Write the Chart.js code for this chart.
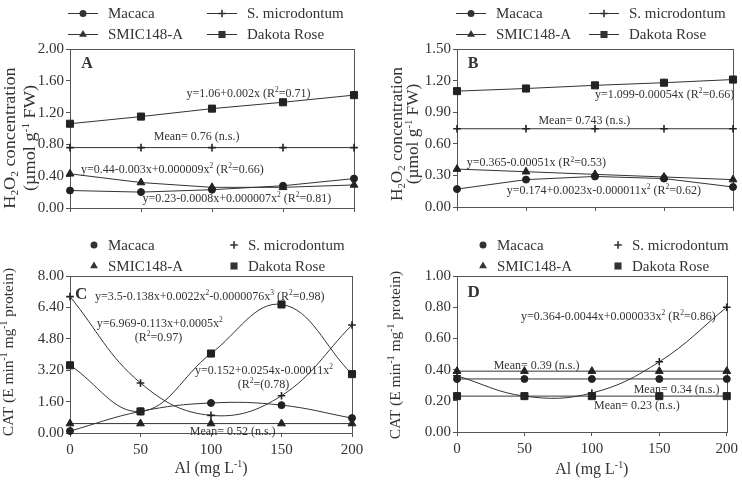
<!DOCTYPE html>
<html>
<head>
<meta charset="utf-8">
<script src="https://cdn.jsdelivr.net/npm/chart.js@4.4.1/dist/chart.umd.min.js"></script>
<style>
  html, body { margin: 0; padding: 0; background: #fff; }
  #wrap { position: relative; width: 742px; height: 481px; overflow: hidden; }
  canvas { position: absolute; }
</style>
</head>
<body>
<div id="wrap">
  <canvas id="chartA" width="370" height="240" style="left:0;top:0"></canvas>
  <canvas id="chartB" width="372" height="240" style="left:370px;top:0"></canvas>
  <canvas id="chartC" width="370" height="241" style="left:0;top:240px"></canvas>
  <canvas id="chartD" width="372" height="241" style="left:370px;top:240px"></canvas>
</div>
<script>
// Al doses (mg L-1) and the four potato clones
var doses = [0, 50, 100, 150, 200];
var clones = ['Macaca', 'S. microdontum', 'SMIC148-A', 'Dakota Rose'];
var xTicks = [0, 50, 100, 150, 200];

// A - H2O2, roots
var macacaA = [0.22, 0.20, 0.23, 0.28, 0.37];
var microA = [0.76, 0.76, 0.76, 0.76, 0.76];
var smicA = [0.43, 0.32, 0.26, 0.26, 0.29];
var dakotaA = [1.06, 1.15, 1.25, 1.33, 1.42];
var yTicksA = [0, 0.4, 0.8, 1.2, 1.6, 2.0];

// B - H2O2, shoots
var macacaB = [0.17, 0.26, 0.29, 0.27, 0.19];
var microB = [0.743, 0.743, 0.743, 0.743, 0.743];
var smicB = [0.36, 0.335, 0.31, 0.285, 0.26];
var dakotaB = [1.10, 1.125, 1.155, 1.18, 1.21];
var yTicksB = [0, 0.3, 0.6, 0.9, 1.2, 1.5];

// C - CAT, roots
var macacaC = [0.1, 1.1, 1.53, 1.42, 0.76];
var microC = [6.95, 2.55, 0.9, 1.9, 5.5];
var smicC = [0.48, 0.48, 0.48, 0.48, 0.48];
var dakotaC = [3.45, 1.1, 4.05, 6.55, 3.0];
var yTicksC = [0, 1.6, 3.2, 4.8, 6.4, 8.0];

// D - CAT, shoots
var macacaD = [0.34, 0.34, 0.34, 0.34, 0.34];
var microD = [0.36, 0.23, 0.25, 0.45, 0.80];
var smicD = [0.39, 0.39, 0.39, 0.39, 0.39];
var dakotaD = [0.23, 0.23, 0.23, 0.23, 0.23];
var yTicksD = [0, 0.2, 0.4, 0.6, 0.8, 1.0];

var INK = '#333';
var FRAME = '#555';
var markers = [
  { style: 'circle', r: 3.5, bw: 1 },
  { style: 'cross', r: 3.8, bw: 1.6 },
  { style: 'triangle', r: 4.5, bw: 1 },
  { style: 'rect', r: 5, bw: 1 }
];

function fontStr(size, bold) {
  return (bold ? 'bold ' : '') + size + 'px "Liberation Serif", "Times New Roman", serif';
}

// text with _{sub} and ^{sup}
function parseRich(str) {
  var parts = [], re = /([_^])\{([^}]*)\}/g, last = 0, m;
  while ((m = re.exec(str))) {
    if (m.index > last) parts.push({ t: str.slice(last, m.index), k: 'n' });
    parts.push({ t: m[2], k: m[1] == '^' ? 'sup' : 'sub' });
    last = re.lastIndex;
  }
  if (last < str.length) parts.push({ t: str.slice(last), k: 'n' });
  return parts;
}
function richWidth(ctx, str, size, bold) {
  var w = 0;
  parseRich(str).forEach(function (p) {
    ctx.font = fontStr(p.k == 'n' ? size : size * 0.62, bold);
    w += ctx.measureText(p.t).width;
  });
  return w;
}
function drawRich(ctx, str, x, y, size, align, bold) {
  var cx = align == 'center' ? x - richWidth(ctx, str, size, bold) / 2 : x;
  var base = y + size * 0.33;
  ctx.textAlign = 'left';
  ctx.textBaseline = 'alphabetic';
  parseRich(str).forEach(function (p) {
    ctx.font = fontStr(p.k == 'n' ? size : size * 0.62, bold);
    var dy = p.k == 'sup' ? -size * 0.4 : (p.k == 'sub' ? size * 0.2 : 0);
    ctx.fillText(p.t, cx, base + dy);
    cx += ctx.measureText(p.t).width;
  });
}

function drawMarker(ctx, style, r, x, y) {
  ctx.beginPath();
  if (style == 'circle') {
    ctx.arc(x, y, r, 0, Math.PI * 2);
    ctx.fill();
  } else if (style == 'rect') {
    var s = r * Math.SQRT1_2;
    ctx.fillRect(x - s, y - s, 2 * s, 2 * s);
  } else if (style == 'triangle') {
    ctx.moveTo(x, y - r);
    ctx.lineTo(x + r * 0.87, y + r * 0.5);
    ctx.lineTo(x - r * 0.87, y + r * 0.5);
    ctx.closePath();
    ctx.fill();
  } else {
    ctx.save();
    ctx.lineWidth = 1.6;
    ctx.moveTo(x - r, y); ctx.lineTo(x + r, y);
    ctx.moveTo(x, y - r); ctx.lineTo(x, y + r);
    ctx.stroke();
    ctx.restore();
  }
}

var paperPlugin = {
  id: 'paper',
  beforeDatasetsDraw: function (chart) {
    var a = chart.chartArea, ctx = chart.ctx;
    ctx.save();
    ctx.strokeStyle = FRAME;
    ctx.lineWidth = 1;
    ctx.strokeRect(Math.round(a.left) + 0.5, Math.round(a.top) + 0.5,
      Math.round(a.right - a.left), Math.round(a.bottom - a.top));
    ctx.restore();
  },
  afterDatasetsDraw: function (chart, args, opts) {
    var ctx = chart.ctx, xs = chart.scales.x, ys = chart.scales.y;
    ctx.save();
    ctx.fillStyle = INK;
    (opts.notes || []).forEach(function (n) {
      drawRich(ctx, n.text, xs.getPixelForValue(n.x), ys.getPixelForValue(n.y),
        n.size || 12, 'left', n.bold);
    });
    ctx.restore();
  },
  afterDraw: function (chart, args, opts) {
    var ctx = chart.ctx, a = chart.chartArea;
    ctx.save();
    ctx.fillStyle = INK;
    ctx.strokeStyle = INK;
    ctx.lineWidth = 1;
    // legend, two columns
    var lg = opts.legend;
    chart.data.datasets.forEach(function (ds, i) {
      var tx = a.left + lg.cols[i % 2];
      var ty = lg.rows[Math.floor(i / 2)];
      if (lg.line) {
        ctx.beginPath();
        ctx.moveTo(tx - 40, ty + 0.5);
        ctx.lineTo(tx - 10, ty + 0.5);
        ctx.stroke();
        drawMarker(ctx, ds.pointStyle, ds.pointRadius, tx - 25, ty + 0.5);
      } else {
        drawMarker(ctx, ds.pointStyle, ds.pointRadius, tx - 14, ty);
      }
      ctx.font = fontStr(15);
      ctx.textAlign = 'left';
      ctx.textBaseline = 'middle';
      ctx.fillText(ds.label, tx, ty + 1);
    });
    // y title (rotated), one or two lines, stretched along the text
    var yt = opts.yTitle;
    yt.lines.forEach(function (ln) {
      ctx.save();
      ctx.translate(ln.x, yt.y);
      ctx.rotate(-Math.PI / 2);
      ctx.scale(yt.stretch, 1);
      drawRich(ctx, ln.text, 0, 0, yt.size, 'center');
      ctx.restore();
    });
    if (opts.xTitle) {
      drawRich(ctx, opts.xTitle.text, (a.left + a.right) / 2, opts.xTitle.y, 16, 'center');
    }
    ctx.restore();
  }
};

function makeSeries(values, curved) {
  return values.map(function (vals, i) {
    return {
      label: clones[i],
      data: doses.map(function (d, j) { return { x: d, y: vals[j] }; }),
      borderColor: INK,
      borderWidth: 1,
      backgroundColor: '#222',
      pointBackgroundColor: '#222',
      pointBorderColor: '#222',
      pointBorderWidth: markers[i].bw,
      pointStyle: markers[i].style,
      pointRadius: markers[i].r,
      tension: curved[i] ? 0.4 : 0,
      clip: false,
      order: 3 - i
    };
  });
}

function makeChart(id, p) {
  return new Chart(document.getElementById(id), {
    type: 'line',
    data: { datasets: makeSeries(p.series, p.curved) },
    options: {
      responsive: false,
      animation: false,
      events: [],
      layout: { autoPadding: false, padding: p.pad },
      scales: {
        x: {
          type: 'linear', min: 0, max: 200,
          afterBuildTicks: function (s) { s.ticks = xTicks.map(function (v) { return { value: v }; }); },
          afterFit: function (s) { s.height = p.xH; },
          ticks: { display: p.xLabels, color: INK, padding: 4, font: { family: 'Liberation Serif', size: 15 } },
          grid: { drawOnChartArea: false, drawTicks: true, tickLength: 4, color: FRAME },
          border: { color: FRAME }
        },
        y: {
          type: 'linear', min: p.yTicks[0], max: p.yTicks[p.yTicks.length - 1],
          afterBuildTicks: function (s) { s.ticks = p.yTicks.map(function (v) { return { value: v }; }); },
          afterFit: function (s) { s.width = p.yW; },
          ticks: {
            color: INK, padding: 2, font: { family: 'Liberation Serif', size: 15 },
            callback: function (v) { return v.toFixed(2); }
          },
          grid: { drawOnChartArea: false, drawTicks: true, tickLength: 4, color: FRAME },
          border: { color: FRAME }
        }
      },
      plugins: {
        legend: { display: false },
        tooltip: { enabled: false },
        paper: {
          legend: p.legend,
          yTitle: p.yTitle,
          xTitle: p.xTitle,
          notes: p.notes
        }
      }
    },
    plugins: [paperPlugin]
  });
}

var h2o2Title = ['H_{2}O_{2} concentration', '(\u00b5mol g^{-1} FW)'];
var catTitle = 'CAT (E min^{-1} mg^{-1} protein)';

makeChart('chartA', {
  series: [macacaA, microA, smicA, dakotaA],
  curved: [false, false, false, false],
  yTicks: yTicksA, yW: 70, xH: 32, xLabels: false,
  pad: { top: 49, right: 16, left: 0, bottom: 0 },
  legend: { line: true, cols: [38, 177], rows: [13, 34] },
  yTitle: { size: 16, stretch: 1.14, y: 138, lines: [{ x: 10, text: h2o2Title[0] }, { x: 30, text: h2o2Title[1] }] },
  notes: [
    { x: 8, y: 1.83, text: 'A', bold: true, size: 16 },
    { x: 82, y: 1.45, text: 'y=1.06+0.002x (R^{2}=0.71)' },
    { x: 59, y: 0.90, text: 'Mean= 0.76 (n.s.)' },
    { x: 7.7, y: 0.49, text: 'y=0.44-0.003x+0.000009x^{2} (R^{2}=0.66)' },
    { x: 51, y: 0.126, text: 'y=0.23-0.0008x+0.000007x^{2} (R^{2}=0.81)' }
  ]
});

makeChart('chartB', {
  series: [macacaB, microB, smicB, dakotaB],
  curved: [false, false, false, false],
  yTicks: yTicksB, yW: 87, xH: 33, xLabels: false,
  pad: { top: 49, right: 9, left: 0, bottom: 0 },
  legend: { line: true, cols: [39, 172], rows: [13, 34] },
  yTitle: { size: 16, stretch: 1.08, y: 134, lines: [{ x: 27, text: h2o2Title[0] }, { x: 43, text: h2o2Title[1] }] },
  notes: [
    { x: 7.8, y: 1.373, text: 'B', bold: true, size: 16 },
    { x: 100, y: 1.07, text: 'y=1.099-0.00054x (R^{2}=0.66)' },
    { x: 59, y: 0.826, text: 'Mean= 0.743 (n.s.)' },
    { x: 7, y: 0.423, text: 'y=0.365-0.00051x (R^{2}=0.53)' },
    { x: 36, y: 0.159, text: 'y=0.174+0.0023x-0.000011x^{2} (R^{2}=0.62)' }
  ]
});

makeChart('chartC', {
  series: [macacaC, microC, smicC, dakotaC],
  curved: [true, true, false, true],
  yTicks: yTicksC, yW: 70, xH: 48, xLabels: true,
  pad: { top: 36, right: 18, left: 0, bottom: 0 },
  legend: { line: false, cols: [38, 178], rows: [5, 26] },
  yTitle: { size: 15.5, stretch: 1, y: 112, lines: [{ x: 8, text: catTitle }] },
  xTitle: { text: 'Al (mg L^{-1})', y: 228 },
  notes: [
    { x: 3.5, y: 7.13, text: 'C', bold: true, size: 17 },
    { x: 17.7, y: 6.98, text: 'y=3.5-0.138x+0.0022x^{2}-0.0000076x^{3} (R^{2}=0.98)' },
    { x: 19, y: 5.62, text: 'y=6.969-0.113x+0.0005x^{2}' },
    { x: 46, y: 4.91, text: '(R^{2}=0.97)' },
    { x: 88.7, y: 3.22, text: 'y=0.152+0.0254x-0.00011x^{2}' },
    { x: 119, y: 2.51, text: '(R^{2}=(0.78)' },
    { x: 85, y: 0.08, text: 'Mean= 0.52 (n.s.)' }
  ]
});

makeChart('chartD', {
  series: [macacaD, microD, smicD, dakotaD],
  curved: [false, true, false, false],
  yTicks: yTicksD, yW: 87, xH: 49, xLabels: true,
  pad: { top: 36, right: 8, left: 0, bottom: 0 },
  legend: { line: false, cols: [40, 175], rows: [5, 26] },
  yTitle: { size: 15.5, stretch: 1, y: 115, lines: [{ x: 25, text: catTitle }] },
  xTitle: { text: 'Al (mg L^{-1})', y: 229 },
  notes: [
    { x: 7.7, y: 0.90, text: 'D', bold: true, size: 17 },
    { x: 47.4, y: 0.744, text: 'y=0.364-0.0044x+0.000033x^{2} (R^{2}=0.86)' },
    { x: 27.2, y: 0.43, text: 'Mean= 0.39 (n.s.)' },
    { x: 131, y: 0.277, text: 'Mean= 0.34 (n.s.)' },
    { x: 101.6, y: 0.17, text: 'Mean= 0.23 (n.s.)' }
  ]
});
</script>
</body>
</html>
